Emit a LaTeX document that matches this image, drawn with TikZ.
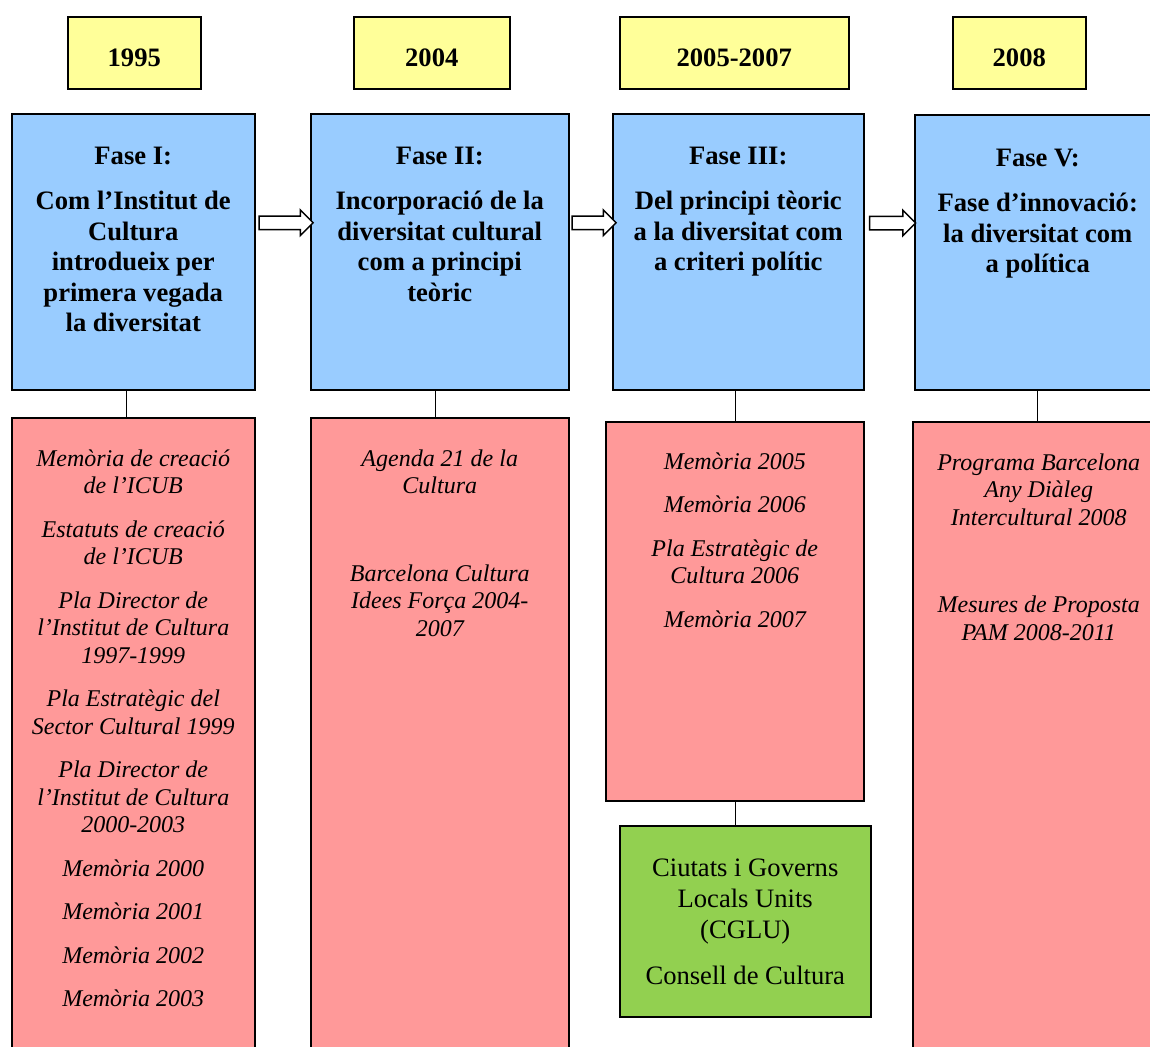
\documentclass[tikz,border=0pt]{standalone}
\usepackage{fontspec}
\setmainfont{Liberation Serif}
\usetikzlibrary{shapes.arrows,calc}

\definecolor{yearyellow}{RGB}{255,255,153}
\definecolor{phaseblue}{RGB}{153,204,255}
\definecolor{docred}{RGB}{255,153,153}
\definecolor{netgreen}{RGB}{146,208,80}

\tikzset{
  box/.style={draw, line width=0.75pt, anchor=north west, inner sep=0pt},
  yearbox/.style={box, fill=yearyellow, minimum height=36pt,
    font=\fontsize{13.3}{15}\selectfont\bfseries, text height=14pt, text depth=0pt},
  phasebox/.style={box, fill=phaseblue, minimum height=138pt},
  docbox/.style={box, fill=docred, minimum height=330pt},
  netbox/.style={box, fill=netgreen, minimum height=95.5pt},
  phasetext/.style={anchor=north, align=center, inner sep=0pt,
    font=\fontsize{13.3}{15.25}\selectfont\bfseries},
  doctext/.style={anchor=north, align=center, inner sep=0pt,
    font=\fontsize{12}{13.75}\selectfont\itshape},
  nettext/.style={anchor=north, align=center, inner sep=0pt,
    font=\fontsize{13.3}{15.5}\selectfont},
  blockarrow/.style={draw, line width=0.75pt, fill=white, single arrow,
    inner sep=3pt, single arrow head extend=3pt, single arrow tip angle=90},
  link/.style={line width=0.6pt}
}

\begin{document}
\begin{tikzpicture}[x=0.5pt, y=-0.5pt]
\useasboundingbox (0,0) rectangle (1150,1046);
\clip (0,0) rectangle (1150,1046);

% years
\node[yearbox, minimum width=66.5pt] (y1) at (67,16) {1995};
\node[yearbox, minimum width=78pt] (y2) at (353,16) {2004};
\node[yearbox, minimum width=114.5pt] (y3) at (619,16) {2005-2007};
\node[yearbox, minimum width=66.5pt] (y4) at (952,16) {2008};

% phases
\node[phasebox, minimum width=121.5pt] (b1) at (11,113) {};
\node[phasebox, minimum width=129pt] (b2) at (310,113) {};
\node[phasebox, minimum width=125.5pt] (b3) at (612,113) {};
\node[phasebox, minimum width=125pt, minimum height=137.5pt] (b4) at (914,114) {};

\node[phasetext] (t1) at ([yshift=-17pt]b1.north) {Fase I:\\[7.25pt]
  Com l’Institut de\\ Cultura\\ introdueix per\\ primera vegada\\ la diversitat};
\node[phasetext] (t2) at ([yshift=-17pt]b2.north) {Fase II:\\[7.25pt]
  Incorporació de la\\ diversitat cultural\\ com a principi\\ teòric};
\node[phasetext] (t3) at ([yshift=-17pt]b3.north) {Fase III:\\[7.25pt]
  Del principi tèoric\\ a la diversitat com\\ a criteri polític};
\node[phasetext] (t4) at ([xshift=-1pt, yshift=-17.5pt]b4.north) {Fase V:\\[7.25pt]
  Fase d’innovació:\\ la diversitat com\\ a política};

% arrows between phases
\node[blockarrow, minimum height=27pt] (a1) at ($(b1.east)!0.5!(b2.west)+(0,-29)$) {};
\node[blockarrow, minimum height=22pt] (a2) at ($(b2.east)!0.5!(b3.west)+(0,-29)$) {};
\node[blockarrow, minimum height=23pt] (a3) at ($(b3.east)!0.5!(b4.west)+(0,-29)$) {};

% documents
\node[docbox, minimum width=121.5pt] (r1) at (11,417) {};
\node[docbox, minimum width=129pt] (r2) at (310,417) {};
\node[docbox, minimum width=129pt, minimum height=189.5pt] (r3) at (605,421) {};
\node[docbox, minimum width=126pt] (r4) at (912,421) {};

\node[doctext] (d1) at ([yshift=-16pt]r1.north) {Memòria de creació\\ de l’ICUB\\[8pt]
  Estatuts de creació\\ de l’ICUB\\[8pt]
  Pla Director de\\ l’Institut de Cultura\\ 1997-1999\\[8pt]
  Pla Estratègic del\\ Sector Cultural 1999\\[8pt]
  Pla Director de\\ l’Institut de Cultura\\ 2000-2003\\[8pt]
  Memòria 2000\\[8pt] Memòria 2001\\[8pt] Memòria 2002\\[8pt] Memòria 2003};
\node[doctext] (d2) at ([yshift=-16pt]r2.north) {Agenda 21 de la\\ Cultura\\[30pt]
  Barcelona Cultura\\ Idees Força 2004-\\ 2007};
\node[doctext] (d3) at ([yshift=-15.5pt]r3.north) {Memòria 2005\\[8pt] Memòria 2006\\[8pt]
  Pla Estratègic de\\ Cultura 2006\\[8pt] Memòria 2007};
\node[doctext] (d4) at ([yshift=-16pt]r4.north) {Programa Barcelona\\ Any Diàleg\\ Intercultural 2008\\[30pt]
  Mesures de Proposta\\ PAM 2008-2011};

% network
\node[netbox, minimum width=125.5pt] (g) at (619,825) {};
\node[nettext] (n1) at ([yshift=-16.5pt]g.north) {Ciutats i Governs\\ Locals Units\\ (CGLU)\\[7.5pt]
  Consell de Cultura};

% links
\draw[link] ([xshift=-3.25pt]b1.south) -- ([xshift=-3.25pt]b1.south |- r1.north);
\draw[link] ([xshift=-2pt]b2.south) -- ([xshift=-2pt]b2.south |- r2.north);
\draw[link] ([xshift=-1.25pt]b3.south) -- ([xshift=-1.25pt]b3.south |- r3.north);
\draw[link] ([xshift=-1pt]b4.south) -- ([xshift=-1pt]b4.south |- r4.north);
\draw[link] ([xshift=0.5pt]r3.south) -- ([xshift=0.5pt]r3.south |- g.north);
\end{tikzpicture}
\end{document}
